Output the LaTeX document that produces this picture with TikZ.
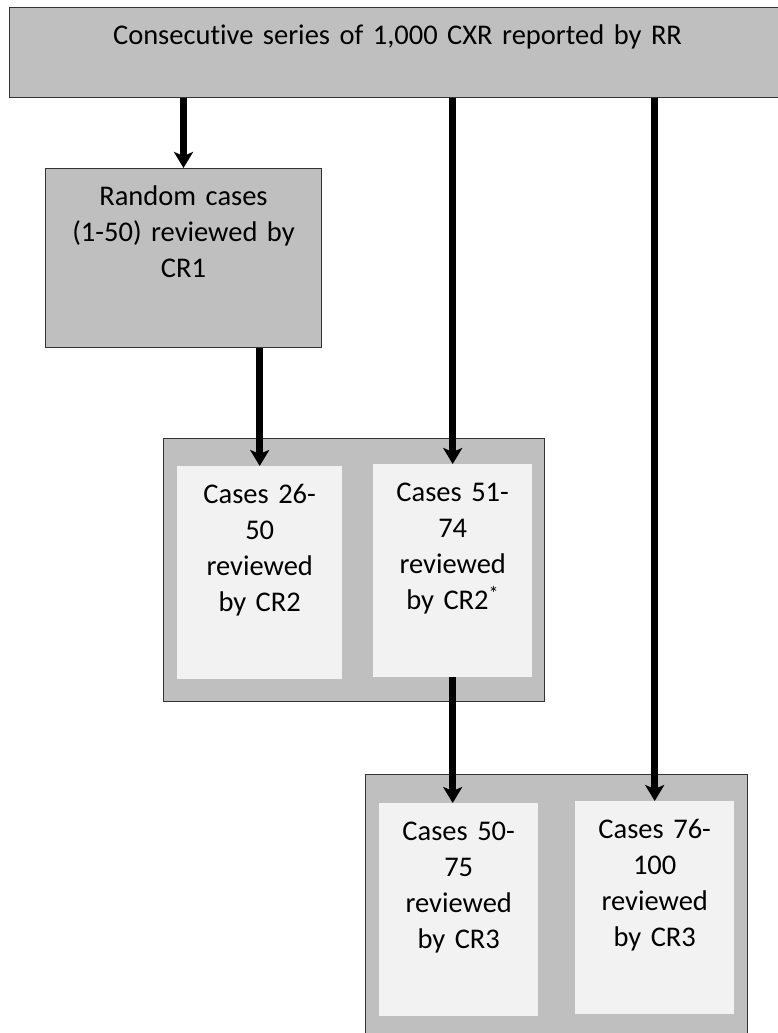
\documentclass[tikz,border=0pt]{standalone}
\usepackage{fontspec}
\setmainfont{Carlito}[Ligatures=NoCommon]
\usetikzlibrary{arrows.meta}

\definecolor{midgray}{HTML}{BFBFBF}
\definecolor{palegray}{HTML}{F2F2F2}

\tikzset{
  stage/.style={draw=black!80, line width=1pt, fill=midgray, inner sep=0pt,
    align=center, anchor=north west, text height=37pt},
  sheet/.style={fill=palegray, inner sep=0pt,
    align=center, anchor=north west, text height=37pt},
  flow/.style={-{Stealth[length=16pt,width=19pt,inset=4pt]}, line width=7pt}
}

\begin{document}
\begin{tikzpicture}[x=1pt, y=-1pt, font=\fontsize{28.5pt}{36pt}\selectfont]
	\useasboundingbox (0,0) rectangle (778,1033);

	\node at (9,7) [stage, text width=776pt, text depth=53pt] (rr) {Consecutive series of 1,000 CXR reported by RR};
	\node at (45,168) [stage, text width=276pt, text depth=142pt] (cr1) {Random cases\\(1-50) reviewed by\\CR1};

	\node at (163,438) [stage, text width=381pt, text height=263pt, text depth=0pt] (grp2) {};
	\node at (177,466) [sheet, text width=165pt, text depth=176pt] (c2a) {Cases 26-\\50\\reviewed\\by CR2};
	\node at (373,464) [sheet, text width=159pt, text depth=176pt] (c2b) {Cases 51-\\74\\reviewed\\by CR2\textsuperscript{*}};

	\node at (365,774) [stage, text width=382pt, text height=280pt, text depth=0pt] (grp3) {};
	\node at (379,803) [sheet, text width=159pt, text depth=176pt] (c3a) {Cases 50-\\75\\reviewed\\by CR3};
	\node at (575,801) [sheet, text width=159pt, text depth=176pt] (c3b) {Cases 76-\\100\\reviewed\\by CR3};

	\draw [flow] (rr.south -| cr1) -- (cr1.north);
	\draw [flow] (rr.south -| c2b) -- (c2b.north);
	\draw [flow] (rr.south -| c3b) -- (c3b.north);
	\draw [flow] (cr1.south -| c2a) -- (c2a.north);
	\draw [flow] (c2b.south) -- (c2b.south |- c3a.north);

\end{tikzpicture}
\end{document}
